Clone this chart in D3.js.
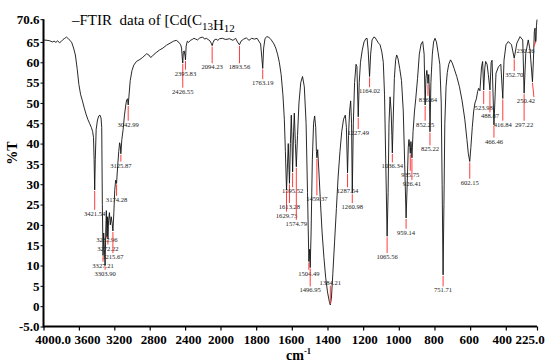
<!DOCTYPE html>
<html>
<head>
<meta charset="utf-8">
<script src="https://cdn.jsdelivr.net/npm/d3@7"></script>
<style>
  html, body { margin: 0; padding: 0; background: #fff; }
  svg { display: block; }
</style>
</head>
<body>
<svg id="chart" width="546" height="363"></svg>
<script>
// ---------------- data ----------------
const wavenumbers = [
  4000,3960,3930,3900,3880,3860,3840,3820,3800,3780,3760,3740,3720,3700,3680,3660,3640,3620,3600,3580,
  3560,3540,3520,3500,3480,3460,3445,3435,3428,3421.5,3415,3405,3390,3375,3362,3350,3342,3335,3327.21,3320,
  3312,3303.9,3296,3290,3282.96,3278,3272.22,3265,3255,3245,3235,3225,3215.67,3205,3195,3185,3174.28,3165,3150,3140,
  3132,3125.87,3115,3100,3085,3070,3060,3050,3042.99,3035,3020,3000,2980,2950,2910,2880,2850,2834,2810,2790,
  2770,2750,2720,2690,2650,2610,2570,2530,2500,2470,2450,2440,2430,2426.55,2420,2410,2400,2395.83,2388,2375,
  2360,2340,2320,2300,2280,2260,2240,2220,2200,2180,2160,2140,2120,2105,2094.23,2085,2070,2050,2030,2010,
  1990,1970,1950,1930,1915,1905,1893.56,1885,1870,1855,1840,1825,1810,1795,1785,1775,1768,1763.19,1758,1750,
  1740,1730,1715,1700,1690,1680,1670,1660,1650,1642,1636,1629.73,1624,1620,1613.28,1608,1603,1599,1595.52,1590,
  1586,1580,1574.79,1568,1560,1550,1540,1530,1520,1512,1504.49,1500,1496.95,1492,1485,1478,1472,1466,1462,1459.37,
  1455,1448,1440,1430,1420,1410,1400,1390,1384.21,1378,1370,1360,1350,1340,1330,1320,1310,1300,1294,1287.54,
  1282,1276,1270,1265,1260.98,1255,1248,1240,1235,1227.49,1222,1215,1205,1195,1185,1178,1172,1164.02,1158,1150,
  1140,1133,1125,1115,1105,1095,1087,1080,1073,1065.56,1060,1055,1049,1043,1039,1036.34,1032,1025,1018,1012,
  1005,995,985,975,967,959.14,953,947,943,938,935.75,932,929,926.41,920,912,905,895,885,875,
  866,858,852.25,848,843,839,836.64,832,828,825.22,820,812,805,797,789,780,770,762,757,751.71,
  747,742,735,728,720,710,700,690,675,660,645,630,618,610,602.15,596,588,580,573,565,
  558,552,545,536,530,523.98,518,513,505,498,488.87,482,477,466.46,455,441,428,416.84,410,399,
  386,368,352.7,338,320,305,297.22,288,274,264,250.42,245,240,236,233,230.26,228,225
];
const transmittance = [
  65.5,65.4,65.3,65.0,65.2,64.9,65.3,64.8,65.1,65.6,65.9,66.2,65.8,65.4,64.8,63.5,61.8,58.5,54.5,52.0,
  50.5,48.8,47.3,46.0,45.0,44.0,43.0,41.5,36,28.6,36,43.5,45.8,46.8,47.0,46.3,44,25,12.5,18,
  14,10,19,23.5,17,22,16.5,21,23,20,22,20.5,18.5,23,28.5,31,30.2,33.5,38,40.2,
  39.5,37.5,41,43.5,47,49.5,50.8,51,49.5,51.5,55.5,58,59.3,60.2,60.7,61.2,61.8,62.1,61.8,61.2,
  61.5,62.0,62.5,63,63.5,64.2,64.7,65.2,65.4,64.9,64.3,63.5,60.5,59.8,62.5,62.8,61.5,60.6,64.0,65.2,
  64.9,65.4,65.6,65.9,65.7,65.5,65.9,66.1,66.2,65.7,65.9,65.6,65.3,64.7,64.1,64.8,65.5,65.7,65.4,65.8,
  65.9,65.6,65.8,65.4,65.9,65.0,64.3,65.2,65.7,66.0,65.4,65.9,65.7,65.9,65.2,64.5,61,58.5,63.5,65.9,
  66.3,66.2,65.5,64.5,63.5,62.0,60.0,57,52,46,38,28.6,35,40,30.2,40,47,41,33,43,
  47.5,40,34.3,42,50,55,56.5,54,45,28,11,14,9.5,18,36,45,46.8,44,38,36.5,
  38.5,33,26,18,12,7,3.5,1.2,0.3,2,8,16,24,32,38,43,46,47,44,32.8,
  42,48,50.5,45,27.8,45,55,59.5,59.0,46.6,55,60,63,65,65.8,65.9,63,56.5,62,65.5,
  66.2,66.1,65.5,64.8,64.3,62.5,60,52,35,17.2,28,45,51.5,48,42,37.7,45,56,60.5,61.8,
  61,58.5,55.5,48,35,21.7,30,39,41,39,37.6,40.5,39,36.5,43,48,51,56,62,64.5,
  65.1,62,49.5,56,58,56.5,54.8,57,52,42.9,55,62,65,65.9,65,62.5,59.5,50,30,7.7,
  25,45,54,57.5,59.5,60.6,59.8,58.5,56.5,54,50.5,46,41,37.5,35.6,39,44,48,50,51,
  52.8,53.6,53.0,58.9,60.2,53.2,58.5,60.2,59.5,57,53.2,60.0,60.5,44.6,57.3,58.9,59.5,51.1,60.5,64.3,
  65.1,64.3,61,64.7,66.3,65.5,52.4,62.2,65.5,63,55.2,60.6,67.5,68.4,65,65.5,69,70.5
];

const xTickValues = [4000,3600,3200,2800,2400,2000,1800,1600,1400,1200,1000,800,600,400,225];
const xTickLabels = ["4000.0","3600","3200","2800","2400","2000","1800","1600","1400","1200","1000","800","600","400","225.0"];
const yTickValues = [70.6,65,60,55,50,45,40,35,30,25,20,15,10,5,0,-5];
const yTickLabels = ["70.6","65","60","55","50","45","40","35","30","25","20","15","10","5","0","-5.0"];

// labelled peaks: wavenumber, %T at the mark, label text, %T level of the label
const peakWn = [3421.5,3327.21,3303.9,3282.96,3272.22,3215.67,3174.28,3125.87,3042.99,2426.55,2395.83,2094.23,
  1893.56,1763.19,1629.73,1613.28,1595.52,1574.79,1504.49,1496.95,1459.37,1384.21,1287.54,1260.98,1227.49,1164.02,
  1065.56,1036.34,959.14,935.75,926.41,852.25,836.64,825.22,751.71,602.15,523.98,488.87,466.46,416.84,352.7,297.22,250.42,230.26];
const peakT = [28.6,12.5,10,17,16.5,18.5,30.2,37.5,49.5,59.8,60.6,64.1,
  64.3,58.5,28.6,30.2,33,34.3,11,9.5,36.5,0.3,32.8,27.8,46.6,56.5,
  17.2,37.7,21.7,37.6,36.5,49.5,54.8,42.9,7.7,35.6,53.2,53.2,44.6,51.1,61,52.4,55.2,65.5];
const peakLabels = ["3421.54","3327.21","3303.90","3282.96","3272.22","3215.67","3174.28","3125.87","3042.99","2426.55","2395.83","2094.23",
  "1893.56","1763.19","1629.73","1613.28","1595.52","1574.79","1504.49","1496.95","1459.37","1384.21","1287.54","1260.98","1227.49","1164.02",
  "1065.56","1036.34","959.14","935.75","926.41","852.25","836.64","825.22","751.71","602.15","523.98","488.87","466.46","416.84","352.70","297.22","250.42","230.26"];
const labelT = [22.85,10.1,8.1,16.3,14.3,12.2,26.3,34.7,44.75,52.9,57.3,58.9,
  58.9,55,22.4,24.5,28.4,20.4,8.1,4,26.4,5.9,28.4,24.5,42.7,53,
  12.2,34.5,18.2,32.45,30.2,44.75,50.9,38.7,4,30.5,48.9,46.8,40.6,44.75,57,44.75,50.7,63.0];
const labelWn = [null,null,null,null,null,null,null,null,null,null,null,null,
  null,null,null,null,null,null,null,null,null,null,null,null,null,null,
  null,null,null,null,null,null,null,null,null,null,null,null,null,null,null,null,287,289];

// layout only: horizontal nudges (px) of the x tick labels, as in the original
const xLabelNudge = [9,8,4.5,3.5,3,0,0,-1,0,1,-0.7,-1,-1.3,-4,-7.5];

// ---------------- drawing ----------------
const svg = d3.select("#chart");
const serif = "'Liberation Serif','Times New Roman',serif";

const x = d3.scaleLinear().domain([4000, 2000, 225]).range([43.5, 220.5, 537]);
const y = d3.scaleLinear().domain([-5, 70.6]).range([326.5, 19.2]);

// spectrum line
const pts = wavenumbers.map((w, i) => [w, transmittance[i]]);
svg.append("path")
  .datum(pts)
  .attr("fill", "none")
  .attr("stroke", "#111")
  .attr("stroke-width", 0.9)
  .attr("stroke-linejoin", "round")
  .attr("d", d3.line().x(d => x(d[0])).y(d => y(d[1])));

// peak markers
const peaks = peakWn.map((w, i) => ({
  w, t: peakT[i], label: peakLabels[i], lt: labelT[i], lw: labelWn[i] == null ? w : labelWn[i]
}));
const pg = svg.append("g");
peaks.forEach(p => {
  const px = x(p.w), py = y(p.t);
  const lx = x(p.lw), ly = y(p.lt);
  let x2 = lx, y2;
  if (ly > py) y2 = ly - 3.5; else y2 = ly + 3.5;
  if (p.lw !== p.w) { x2 = lx + 8; y2 = ly - 3; }
  pg.append("line")
    .attr("x1", px).attr("y1", py + (ly > py ? 1 : -1))
    .attr("x2", x2).attr("y2", y2)
    .attr("stroke", "#ff3b3b").attr("stroke-width", 1);
  pg.append("text")
    .attr("x", lx).attr("y", ly)
    .attr("text-anchor", "middle")
    .attr("dominant-baseline", "central")
    .attr("font-family", serif)
    .attr("font-size", 6.6)
    .attr("fill", "#222")
    .text(p.label);
});

// axes
const xAxis = d3.axisBottom(x).tickValues(xTickValues).tickSize(4).tickFormat((d, i) => xTickLabels[i]);
const gx = svg.append("g").attr("transform", "translate(0,326.5)").call(xAxis);
gx.select(".domain").attr("stroke", "#000").attr("stroke-width", 2).attr("d", "M43.5,0H537");
gx.selectAll(".tick line").attr("stroke", "#000").attr("stroke-width", 1.2);
gx.selectAll(".tick text")
  .attr("font-family", serif).attr("font-weight", "bold").attr("font-size", 13)
  .attr("fill", "#000").attr("y", 8).attr("dy", "0.71em")
  .attr("text-anchor", "middle")
  .attr("dx", (d, i) => xLabelNudge[i]);

const yAxis = d3.axisLeft(y).tickValues(yTickValues).tickSize(3).tickFormat((d, i) => yTickLabels[i]);
const gy = svg.append("g").attr("transform", "translate(43.5,0)").call(yAxis);
gy.select(".domain").attr("stroke", "#000").attr("stroke-width", 2).attr("d", "M0,19.2V327.5");
gy.selectAll(".tick line").attr("stroke", "#000").attr("stroke-width", 1);
gy.selectAll(".tick text")
  .attr("font-family", serif).attr("font-weight", "bold").attr("font-size", 13)
  .attr("fill", "#000").attr("x", -4);

// axis titles
const xt = svg.append("text")
  .attr("x", 286).attr("y", 360)
  .attr("font-family", serif).attr("font-weight", "bold").attr("font-size", 14)
  .attr("fill", "#000");
xt.append("tspan").text("cm");
xt.append("tspan").attr("font-size", 8.5).attr("dy", -6).text("-1");

svg.append("text")
  .attr("transform", "translate(17,153) rotate(-90)")
  .attr("text-anchor", "middle")
  .attr("font-family", serif).attr("font-weight", "bold").attr("font-size", 14)
  .attr("fill", "#000")
  .text("%T");

// title
const tt = svg.append("text")
  .attr("x", 72).attr("y", 25)
  .attr("font-family", serif).attr("font-size", 15)
  .attr("fill", "#000");
tt.append("tspan").text("\u2013FTIR\u00a0\u00a0data of [Cd(C");
tt.append("tspan").attr("font-size", 11).attr("dy", 5).text("13");
tt.append("tspan").attr("font-size", 15).attr("dy", 0).text("H");
tt.append("tspan").attr("font-size", 11).attr("dy", 2).text("12");
</script>
</body>
</html>
